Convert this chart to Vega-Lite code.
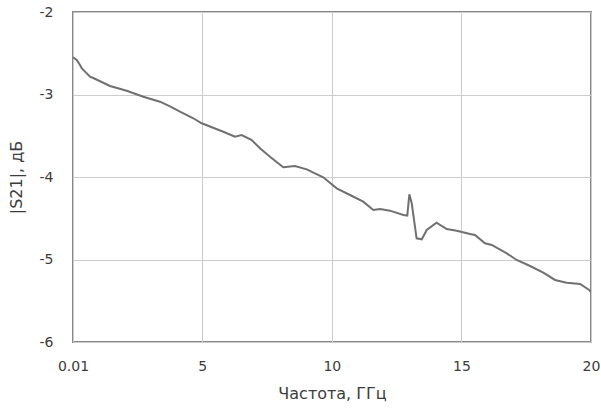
{
  "$schema": "https://vega.github.io/schema/vega-lite/v6.json",
  "width": 518,
  "height": 330,
  "autosize": {"type": "none"},
  "padding": {"left": 73, "top": 12, "right": 10, "bottom": 66},
  "background": "white",
  "view": {"stroke": "#888888", "strokeWidth": 2},
  "config": {
    "font": "DejaVu Sans",
    "axis": {
      "domain": false,
      "ticks": false,
      "tickSize": 0,
      "gridColor": "#cccccc",
      "gridWidth": 1,
      "labelFont": "DejaVu Sans",
      "labelFontSize": 14,
      "labelColor": "#3c3c3c",
      "titleFont": "DejaVu Sans",
      "titleFontSize": 16,
      "titleFontWeight": "normal",
      "titleColor": "#3c3c3c",
      "labelFlush": false,
      "labelOverlap": false
    }
  },
  "data": {
    "values": [
      {"f": 0.01, "s": -2.549},
      {"f": 0.153, "s": -2.582},
      {"f": 0.28, "s": -2.642},
      {"f": 0.346, "s": -2.682},
      {"f": 0.666, "s": -2.784},
      {"f": 0.793, "s": -2.8},
      {"f": 1.438, "s": -2.897},
      {"f": 2.082, "s": -2.954},
      {"f": 2.723, "s": -3.027},
      {"f": 3.367, "s": -3.087},
      {"f": 3.753, "s": -3.143},
      {"f": 4.139, "s": -3.208},
      {"f": 4.652, "s": -3.288},
      {"f": 4.977, "s": -3.349},
      {"f": 5.81, "s": -3.451},
      {"f": 6.262, "s": -3.511},
      {"f": 6.52, "s": -3.491},
      {"f": 6.906, "s": -3.552},
      {"f": 7.226, "s": -3.652},
      {"f": 7.612, "s": -3.754},
      {"f": 8.125, "s": -3.882},
      {"f": 8.577, "s": -3.867},
      {"f": 9.028, "s": -3.907},
      {"f": 9.668, "s": -4.004},
      {"f": 10.186, "s": -4.137},
      {"f": 10.7, "s": -4.218},
      {"f": 11.21, "s": -4.299},
      {"f": 11.6, "s": -4.4},
      {"f": 11.86, "s": -4.388},
      {"f": 12.24, "s": -4.408},
      {"f": 12.76, "s": -4.461},
      {"f": 12.91, "s": -4.467},
      {"f": 12.99, "s": -4.21},
      {"f": 13.08, "s": -4.315},
      {"f": 13.27, "s": -4.743},
      {"f": 13.47, "s": -4.755},
      {"f": 13.66, "s": -4.642},
      {"f": 14.04, "s": -4.554},
      {"f": 14.43, "s": -4.63},
      {"f": 14.82, "s": -4.651},
      {"f": 15.33, "s": -4.691},
      {"f": 15.52, "s": -4.703},
      {"f": 15.91, "s": -4.804},
      {"f": 16.17, "s": -4.824},
      {"f": 16.75, "s": -4.925},
      {"f": 17.13, "s": -5.006},
      {"f": 17.65, "s": -5.079},
      {"f": 18.16, "s": -5.16},
      {"f": 18.61, "s": -5.248},
      {"f": 19.06, "s": -5.281},
      {"f": 19.58, "s": -5.297},
      {"f": 19.93, "s": -5.37},
      {"f": 20.0, "s": -5.394}
    ]
  },
  "mark": {"type": "line", "color": "#707070", "strokeWidth": 2, "clip": true},
  "encoding": {
    "x": {
      "field": "f",
      "type": "quantitative",
      "scale": {"domain": [0.01, 20], "nice": false, "zero": false},
      "axis": {
        "title": "Частота, ГГц",
        "values": [0.01, 5, 10, 15, 20],
        "labelExpr": "'' + datum.value",
        "labelPadding": 17,
        "titleY": 51,
        "titleBaseline": "middle"
      }
    },
    "y": {
      "field": "s",
      "type": "quantitative",
      "scale": {"domain": [-6, -2], "nice": false, "zero": false},
      "axis": {
        "title": "|S21|, дБ",
        "values": [-6, -5, -4, -3, -2],
        "labelExpr": "'' + datum.value",
        "labelPadding": 20,
        "titleX": -57,
        "titleY": 165,
        "titleAngle": -90,
        "titleBaseline": "middle",
        "titleAlign": "center"
      }
    }
  }
}
